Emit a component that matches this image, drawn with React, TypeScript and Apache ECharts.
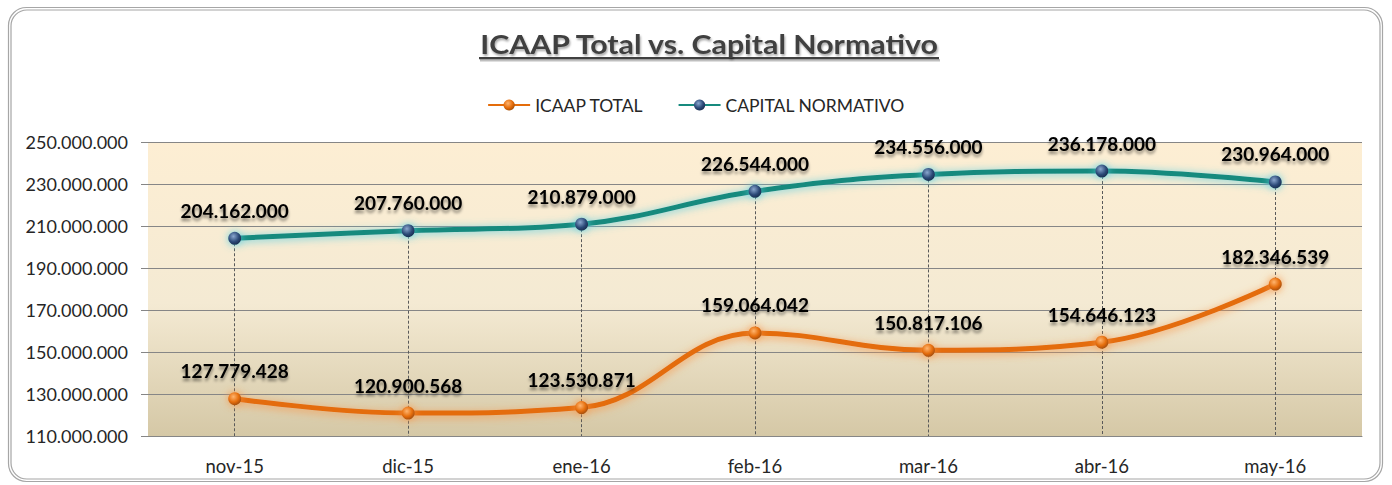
import React, { useEffect, useRef } from "react";
import * as echarts from "echarts";

const categories = ["nov-15", "dic-15", "ene-16", "feb-16", "mar-16", "abr-16", "may-16"];
const icaapTotal = [127779428, 120900568, 123530871, 159064042, 150817106, 154646123, 182346539];
const capitalNormativo = [204162000, 207760000, 210879000, 226544000, 234556000, 236178000, 230964000];
const yMin = 110000000;
const yMax = 250000000;
const yStep = 20000000;
const titleText = "ICAAP Total vs. Capital Normativo";
const seriesNames = ["ICAAP TOTAL", "CAPITAL NORMATIVO"];

const FONT = "Lato, 'Open Sans', sans-serif";

function fmt(v: number): string {
  return String(Math.round(v)).replace(/\B(?=(\d{3})+(?!\d))/g, ".");
}

function measure(text: string, font: string): number {
  try {
    const c = document.createElement("canvas");
    const ctx = c.getContext("2d");
    if (!ctx) return 400;
    ctx.font = font;
    const w = ctx.measureText(text).width;
    return w > 0 ? w : 400;
  } catch (e) {
    return 400;
  }
}

export default function App() {
  const ref = useRef<HTMLDivElement>(null);

  useEffect(() => {
    document.body.style.margin = "0";
    if (!ref.current) return;
    const chart = echarts.init(ref.current, undefined, { renderer: "svg" });
    const W = 1392;
    const titleSize = 26;
    const targetTitleW = 460;
    const rawTitleW = measure(titleText, `bold ${titleSize}px Lato`);
    const titleScale = Math.min(1.2, Math.max(0.9, targetTitleW / rawTitleW));
    const titleW = rawTitleW * titleScale;
    const titleCx = 709;

    const labelStyle = {
      show: true,
      position: "top" as const,
      distance: 12,
      fontFamily: FONT,
      fontWeight: "bold" as const,
      fontSize: 19,
      color: "#000",
      textShadowColor: "rgba(0,0,0,0.45)",
      textShadowBlur: 3,
      textShadowOffsetY: 3,
      formatter: (p: any) => fmt(p.value),
    };

    const option: any = {
      animation: false,
      backgroundColor: "#fff",
      graphic: [
        {
          type: "rect",
          shape: { x: 8.5, y: 7.5, width: 1374, height: 474, r: 18 },
          style: { fill: "none", stroke: "#a6a6a6", lineWidth: 1.2 },
          silent: true,
        },
        {
          type: "rect",
          shape: { x: 11, y: 10, width: 1369, height: 469, r: 16 },
          style: { fill: "none", stroke: "#a6a6a6", lineWidth: 1.2 },
          silent: true,
        },
        {
          type: "rect",
          shape: { x: titleCx - titleW / 2 + 1, y: 59, width: titleW, height: 2.5 },
          style: { fill: "rgba(0,0,0,0.25)" },
          silent: true,
        },
        {
          type: "rect",
          shape: { x: titleCx - titleW / 2, y: 57, width: titleW, height: 2.2 },
          style: { fill: "#404040" },
          silent: true,
        },
        {
          type: "text",
          x: titleCx,
          y: 31,
          scaleX: titleScale,
          style: {
            text: titleText,
            font: `bold ${titleSize}px ${FONT}`,
            fill: "#404040",
            align: "center",
            verticalAlign: "top",
            textShadowColor: "rgba(0,0,0,0.35)",
            textShadowBlur: 2,
            textShadowOffsetX: 1,
            textShadowOffsetY: 2,
          },
          silent: true,
        },
      ],
      legend: {
        top: 91,
        left: "center",
        itemWidth: 42,
        itemHeight: 14,
        itemGap: 34,
        textStyle: { fontFamily: FONT, fontSize: 17.5, color: "#262626" },
        data: seriesNames,
      },
      grid: {
        left: 148,
        right: W - 1362,
        top: 142,
        bottom: 485 - 436,
        show: true,
        borderWidth: 0,
        backgroundColor: {
          type: "linear",
          x: 0,
          y: 0,
          x2: 0,
          y2: 1,
          colorStops: [
            { offset: 0, color: "#fdeed3" },
            { offset: 0.55, color: "#f4ead3" },
            { offset: 1, color: "#d5c8a6" },
          ],
        },
      },
      xAxis: {
        type: "category",
        data: categories,
        boundaryGap: true,
        axisLine: { show: true, lineStyle: { color: "#868686", width: 1 } },
        axisTick: { show: false },
        axisLabel: { margin: 20, fontFamily: FONT, fontSize: 18.5, color: "#262626" },
        splitLine: { show: false },
      },
      yAxis: {
        type: "value",
        min: yMin,
        max: yMax,
        interval: yStep,
        axisLine: { show: false },
        axisTick: { show: true, length: 7, lineStyle: { color: "#868686" } },
        axisLabel: {
          margin: 20,
          fontFamily: FONT,
          fontSize: 18,
          color: "#262626",
          formatter: (v: number) => fmt(v),
        },
        splitLine: { show: true, lineStyle: { color: "#868686", width: 1 } },
      },
      series: [
        {
          name: seriesNames[0],
          type: "line",
          data: icaapTotal,
          smooth: 0.4,
          symbol: "circle",
          symbolSize: 13,
          z: 3,
          lineStyle: {
            color: "#e46c0a",
            width: 5,
            shadowColor: "rgba(247,150,70,0.85)",
            shadowBlur: 9,
            shadowOffsetY: 2,
          },
          itemStyle: {
            color: {
              type: "radial",
              x: 0.4,
              y: 0.35,
              r: 0.7,
              colorStops: [
                { offset: 0, color: "#ffb46e" },
                { offset: 0.6, color: "#e46c0a" },
                { offset: 1, color: "#9c4a06" },
              ],
            },
            shadowColor: "rgba(247,150,70,0.9)",
            shadowBlur: 8,
          },
          label: labelStyle,
        },
        {
          name: seriesNames[1],
          type: "line",
          data: capitalNormativo,
          smooth: 0.4,
          symbol: "circle",
          symbolSize: 13,
          z: 3,
          lineStyle: {
            color: "#178a7e",
            width: 5,
            shadowColor: "rgba(90,205,225,0.9)",
            shadowBlur: 9,
            shadowOffsetY: 1,
          },
          itemStyle: {
            color: {
              type: "radial",
              x: 0.4,
              y: 0.35,
              r: 0.7,
              colorStops: [
                { offset: 0, color: "#8aa7cf" },
                { offset: 0.6, color: "#2c4a78" },
                { offset: 1, color: "#17294a" },
              ],
            },
            shadowColor: "rgba(90,205,225,0.9)",
            shadowBlur: 8,
          },
          label: labelStyle,
          markLine: {
            silent: true,
            symbol: "none",
            label: { show: false },
            z: 1,
            lineStyle: { color: "#595959", width: 1, type: [3, 2] },
            data: categories.map((c, i) => [
              { coord: [c, capitalNormativo[i]] },
              { coord: [c, yMin] },
            ]),
          },
        },
      ],
    };

    chart.setOption(option);
    return () => chart.dispose();
  }, []);

  return <div ref={ref} style={{ width: 1392, height: 485 }} />;
}
